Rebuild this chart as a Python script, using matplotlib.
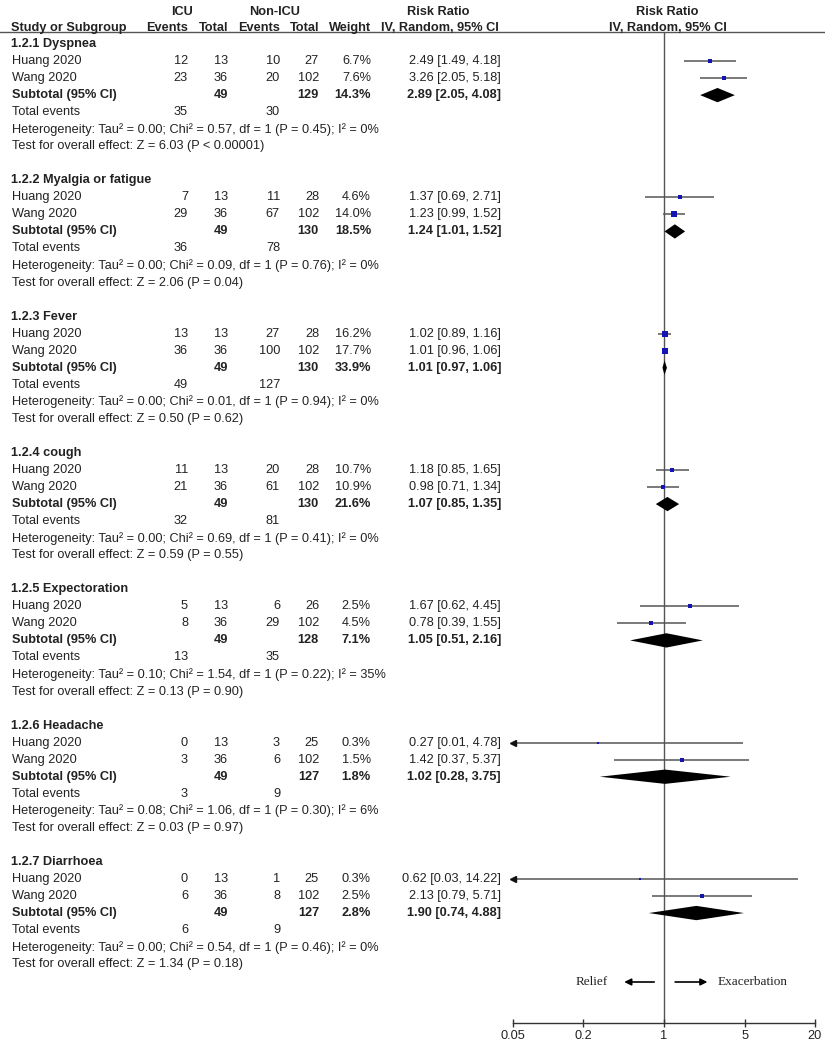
import numpy as np
import matplotlib
matplotlib.use("Agg")
import matplotlib.pyplot as plt
import matplotlib.transforms as mtransforms
from matplotlib.lines import Line2D

# ---------------- data ----------------
group_names = ["1.2.1 Dyspnea", "1.2.2 Myalgia or fatigue", "1.2.3 Fever", "1.2.4 cough",
               "1.2.5 Expectoration", "1.2.6 Headache", "1.2.7 Diarrhoea"]
study_names = ["Huang 2020", "Wang 2020"]

icu_events = [[12, 23], [7, 29], [13, 36], [11, 21], [5, 8], [0, 3], [0, 6]]
icu_total = [[13, 36], [13, 36], [13, 36], [13, 36], [13, 36], [13, 36], [13, 36]]
non_events = [[10, 20], [11, 67], [27, 100], [20, 61], [6, 29], [3, 6], [1, 8]]
non_total = [[27, 102], [28, 102], [28, 102], [28, 102], [26, 102], [25, 102], [25, 102]]
weights = [[6.7, 7.6], [4.6, 14.0], [16.2, 17.7], [10.7, 10.9], [2.5, 4.5], [0.3, 1.5], [0.3, 2.5]]
rr = [[2.49, 3.26], [1.37, 1.23], [1.02, 1.01], [1.18, 0.98], [1.67, 0.78], [0.27, 1.42], [0.62, 2.13]]
rr_lo = [[1.49, 2.05], [0.69, 0.99], [0.89, 0.96], [0.85, 0.71], [0.62, 0.39], [0.01, 0.37], [0.03, 0.79]]
rr_hi = [[4.18, 5.18], [2.71, 1.52], [1.16, 1.06], [1.65, 1.34], [4.45, 1.55], [4.78, 5.37], [14.22, 5.71]]

sub_icu_total = [49, 49, 49, 49, 49, 49, 49]
sub_non_total = [129, 130, 130, 130, 128, 127, 127]
sub_weight = [14.3, 18.5, 33.9, 21.6, 7.1, 1.8, 2.8]
sub_rr = [2.89, 1.24, 1.01, 1.07, 1.05, 1.02, 1.90]
sub_lo = [2.05, 1.01, 0.97, 0.85, 0.51, 0.28, 0.74]
sub_hi = [4.08, 1.52, 1.06, 1.35, 2.16, 3.75, 4.88]

tot_icu_events = [35, 36, 49, 32, 13, 3, 6]
tot_non_events = [30, 78, 127, 81, 35, 9, 9]

het_tau2 = ["0.00", "0.00", "0.00", "0.00", "0.10", "0.08", "0.00"]
het_chi2 = ["0.57", "0.09", "0.01", "0.69", "1.54", "1.06", "0.54"]
het_p = ["0.45", "0.76", "0.94", "0.41", "0.22", "0.30", "0.46"]
het_i2 = ["0%", "0%", "0%", "0%", "35%", "6%", "0%"]
z_vals = ["6.03", "2.06", "0.50", "0.59", "0.13", "0.03", "1.34"]
z_p = ["P < 0.00001", "P = 0.04", "P = 0.62", "P = 0.55", "P = 0.90", "P = 0.97", "P = 0.18"]

tick_values = [0.05, 0.2, 1, 5, 20]
tick_labels = ["0.05", "0.2", "1", "5", "20"]

# ---------------- figure ----------------
W, H = 825, 1049
fig = plt.figure(figsize=(W / 100, H / 100), dpi=100)
plt.rcParams['font.family'] = ['Liberation Sans', 'DejaVu Sans']

row_h = 17.04
y0 = 44.0
def row_of(py):
    return (py - y0) / row_h

ax_left, ax_right = 513, 815
ax_top_px, ax_bot_px = 32, 1023
ax = fig.add_axes([ax_left / W, 1 - ax_bot_px / H, (ax_right - ax_left) / W, (ax_bot_px - ax_top_px) / H])
ax.set_xscale('log')
ax.set_xlim(0.05, 20)
ax.set_ylim(row_of(ax_bot_px), row_of(ax_top_px))
for s in ['top', 'right', 'left']:
    ax.spines[s].set_visible(False)
ax.spines['bottom'].set_color('#333333')
ax.spines['bottom'].set_linewidth(1.0)
ax.set_yticks([])
ax.set_xticks(tick_values)
ax.set_xticklabels(tick_labels)
ax.xaxis.set_minor_locator(matplotlib.ticker.NullLocator())
ax.tick_params(axis='x', direction='inout', length=6, width=1.0, labelsize=9.2, pad=2, colors='#333333', labelcolor='#222222')
ax.patch.set_alpha(0)

ax.axvline(1, color='#555555', lw=1.0, zorder=1)

tr = mtransforms.blended_transform_factory(fig.transFigure, ax.transData)
FS = 9.2
TXT = '#222222'

def put(px, row, s, ha='left', bold=False, fs=FS, **kw):
    fig.text(px / W, row, s, transform=tr, ha=ha, va='center', fontsize=fs,
             fontweight='bold' if bold else 'normal', color=TXT, **kw)

# header
hr1 = row_of(12)
hr2 = row_of(28)
put(182, hr1, "ICU", ha='center', bold=True)
put(275, hr1, "Non-ICU", ha='center', bold=True)
put(438, hr1, "Risk Ratio", ha='center', bold=True)
put(667, hr1, "Risk Ratio", ha='center', bold=True)
put(11, hr2, "Study or Subgroup", bold=True)
put(188, hr2, "Events", ha='right', bold=True)
put(228, hr2, "Total", ha='right', bold=True)
put(280, hr2, "Events", ha='right', bold=True)
put(319, hr2, "Total", ha='right', bold=True)
put(371, hr2, "Weight", ha='right', bold=True)
put(440, hr2, "IV, Random, 95% CI", ha='center', bold=True)
put(668, hr2, "IV, Random, 95% CI", ha='center', bold=True)

hline_row = row_of(32)
fig.add_artist(Line2D([0, 1], [hline_row, hline_row], transform=tr, color='#555555', lw=1.0))

COL_IE, COL_IT, COL_NE, COL_NT, COL_W, COL_CI = 188, 228, 280, 319, 371, 501
xmin, xmax = ax.get_xlim()

for g in range(len(group_names)):
    base = 8 * g
    put(11, base, group_names[g], bold=True)
    for k in range(2):
        r = base + 1 + k
        put(12, r, study_names[k])
        put(COL_IE, r, str(icu_events[g][k]), ha='right')
        put(COL_IT, r, str(icu_total[g][k]), ha='right')
        put(COL_NE, r, str(non_events[g][k]), ha='right')
        put(COL_NT, r, str(non_total[g][k]), ha='right')
        put(COL_W, r, f"{weights[g][k]:.1f}%", ha='right')
        put(COL_CI, r, f"{rr[g][k]:.2f} [{rr_lo[g][k]:.2f}, {rr_hi[g][k]:.2f}]", ha='right')
        lo, hi = rr_lo[g][k], rr_hi[g][k]
        lo_c, hi_c = max(lo, xmin), min(hi, xmax)
        ax.plot([lo_c, hi_c], [r, r], color='#555555', lw=1.1, zorder=2, solid_capstyle='butt')
        if lo < xmin:
            ax.plot([xmin], [r], marker='<', color='#111111', markersize=5, clip_on=False, zorder=3)
        if hi > xmax:
            ax.plot([xmax], [r], marker='>', color='#111111', markersize=5, clip_on=False, zorder=3)
        ms = 2.0 + 0.12 * weights[g][k]
        ax.plot([rr[g][k]], [r], marker='s', color='#1414b4', markersize=ms, markeredgewidth=0, zorder=4)
    r = base + 3
    put(12, r, "Subtotal (95% CI)", bold=True)
    put(COL_IT, r, str(sub_icu_total[g]), ha='right', bold=True)
    put(COL_NT, r, str(sub_non_total[g]), ha='right', bold=True)
    put(COL_W, r, f"{sub_weight[g]:.1f}%", ha='right', bold=True)
    put(COL_CI, r, f"{sub_rr[g]:.2f} [{sub_lo[g]:.2f}, {sub_hi[g]:.2f}]", ha='right', bold=True)
    dh = 0.42
    ax.fill([sub_lo[g], sub_rr[g], sub_hi[g], sub_rr[g]], [r, r - dh, r, r + dh],
            color='black', lw=0, zorder=5)
    r = base + 4
    put(12, r, "Total events")
    put(COL_IE, r, str(tot_icu_events[g]), ha='right')
    put(COL_NE, r, str(tot_non_events[g]), ha='right')
    r = base + 5
    put(12, r, f"Heterogeneity: Tau\u00b2 = {het_tau2[g]}; Chi\u00b2 = {het_chi2[g]}, df = 1 (P = {het_p[g]}); I\u00b2 = {het_i2[g]}")
    r = base + 6
    put(12, r, f"Test for overall effect: Z = {z_vals[g]} ({z_p[g]})")

# favours labels
fr = row_of(982)
ax.annotate("", xy=(0.43, fr), xytext=(0.87, fr),
            arrowprops=dict(arrowstyle='-|>', color='black', lw=1.2, mutation_scale=10))
ax.annotate("", xy=(2.5, fr), xytext=(1.18, fr),
            arrowprops=dict(arrowstyle='-|>', color='black', lw=1.2, mutation_scale=10))
ax.text(0.33, fr, "Relief", ha='right', va='center', fontsize=9.5, family='Liberation Serif', color='#222222')
ax.text(2.9, fr, "Exacerbation", ha='left', va='center', fontsize=9.5, family='Liberation Serif', color='#222222')

fig.savefig("out.png", dpi=100, facecolor='white')
